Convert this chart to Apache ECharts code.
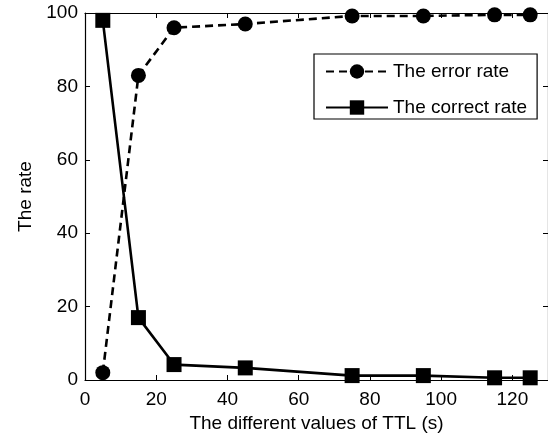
<!DOCTYPE html>
<html>
<head>
<meta charset="utf-8">
<script src="https://cdn.jsdelivr.net/npm/echarts@6/dist/echarts.min.js"></script>
<style>html,body{margin:0;padding:0;background:#fff;}#c{width:548px;height:433px;}</style>
</head>
<body>
<div id="c"></div>
<script>
const ttl = [5, 15, 25, 45, 75, 95, 115, 125];
const errorRate = [2, 83, 96, 97, 99.2, 99.2, 99.5, 99.5];
const correctRate = [98, 17, 4.2, 3.3, 1.2, 1.2, 0.6, 0.6];
const xTicks = [0, 20, 40, 60, 80, 100, 120];
const yTicks = [0, 20, 40, 60, 80, 100];
const seriesNames = ['The error rate', 'The correct rate'];
const xTitle = 'The different values of TTL (s)';
const yTitle = 'The rate';

const FONT = 'Liberation Sans';
const chart = echarts.init(document.getElementById('c'), null, {renderer: 'canvas'});
const tick = {show: true, inside: true, length: 5, lineStyle: {color: '#000', width: 1}};
const axLine = {show: true, onZero: false, lineStyle: {color: '#000', width: 1.2}};
chart.setOption({
  animation: false,
  backgroundColor: '#fff',
  grid: {left: 85, right: 0, top: 13, bottom: 53, containLabel: false, outerBoundsMode: 'none'},
  legend: {
    orient: 'vertical', left: 314, top: 54,
    data: seriesNames,
    itemWidth: 62, itemHeight: 18, itemGap: 17,
    padding: [8, 10, 2, 11],
    borderColor: '#000', borderWidth: 1.2, backgroundColor: '#fff',
    textStyle: {fontFamily: FONT, fontSize: 19, color: '#000'},
    selectedMode: false
  },
  xAxis: [{
    type: 'value', min: 0, max: 130, interval: 20,
    axisLine: axLine, axisTick: tick, splitLine: {show: false},
    axisLabel: {fontFamily: FONT, fontSize: 19, color: '#000', margin: 10,
      formatter: v => xTicks.includes(v) ? String(v) : ''},
    name: xTitle, nameLocation: 'middle', nameGap: 33,
    nameTextStyle: {fontFamily: FONT, fontSize: 19, color: '#000'}
  }, {
    type: 'value', min: 0, max: 130, interval: 20, position: 'top',
    axisLine: axLine, axisTick: tick, axisLabel: {show: false}, splitLine: {show: false}
  }],
  yAxis: [{
    type: 'value', min: 0, max: 100, interval: 20,
    axisLine: axLine, axisTick: tick, splitLine: {show: false},
    axisLabel: {fontFamily: FONT, fontSize: 19, color: '#000', margin: 7,
      formatter: v => yTicks.includes(v) ? String(v) : ''},
    name: yTitle, nameLocation: 'middle', nameGap: 50, nameRotate: 90,
    nameTextStyle: {fontFamily: FONT, fontSize: 19, color: '#000'}
  }, {
    type: 'value', min: 0, max: 100, interval: 20, position: 'right',
    axisLine: axLine, axisTick: tick, axisLabel: {show: false}, splitLine: {show: false}
  }],
  series: [{
    name: seriesNames[0], type: 'line',
    data: ttl.map((x, i) => [x, errorRate[i]]),
    symbol: 'circle', symbolSize: 15,
    lineStyle: {color: '#000', width: 2.6, type: [8, 5]},
    itemStyle: {color: '#000'},
    z: 3
  }, {
    name: seriesNames[1], type: 'line',
    data: ttl.map((x, i) => [x, correctRate[i]]),
    symbol: 'rect', symbolSize: 15,
    lineStyle: {color: '#000', width: 2.6, type: 'solid'},
    itemStyle: {color: '#000'},
    z: 4
  }]
});
</script>
</body>
</html>
